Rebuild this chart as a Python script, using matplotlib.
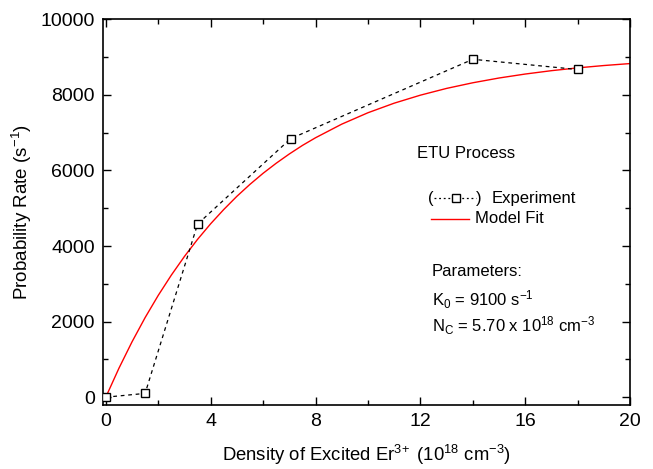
import matplotlib
matplotlib.use("Agg")
import matplotlib.pyplot as plt
from matplotlib.lines import Line2D
from matplotlib.ticker import MultipleLocator

plt.rcParams['font.family'] = ['Liberation Sans', 'DejaVu Sans']
plt.rcParams['mathtext.fontset'] = 'custom'
plt.rcParams['mathtext.rm'] = 'Liberation Sans'
plt.rcParams['mathtext.it'] = 'Liberation Sans'
plt.rcParams['mathtext.default'] = 'regular'

# measured points (density in 1e18 cm^-3, rate in s^-1)
exp_density = [0, 1.5, 3.5, 7.05, 14.0, 18.0]
exp_rate = [0, 100, 4580, 6840, 8940, 8670]

# model fit curve
fit_density = [0, 0.5, 1, 1.5, 2, 2.5, 3, 3.5, 4, 4.5, 5, 5.5, 6, 6.5, 7, 7.5,
               8, 9, 10, 11, 12, 13, 14, 15, 16, 17, 18, 19, 20]
fit_rate = [0, 764, 1464, 2106, 2693, 3230, 3724, 4176, 4589, 4966, 5315, 5632,
            5924, 6190, 6435, 6661, 6864, 7224, 7526, 7779, 7991, 8170, 8319,
            8445, 8550, 8639, 8713, 8775, 8827]

fig = plt.figure(figsize=(6.53, 4.69), dpi=100)
ax = fig.add_axes([0.158, 0.137, 0.807, 0.822])

ax.plot(fit_density, fit_rate, color='red', lw=1.0, zorder=2)
ax.plot(exp_density, exp_rate, color='black', lw=0.9, ls=(0, (3, 3)),
        marker='s', ms=6, mfc='white', mec='black', mew=1.0, zorder=3)

ax.set_xlim(-0.1, 20)
ax.set_ylim(-200, 10000)
ax.xaxis.set_major_locator(MultipleLocator(4))
ax.xaxis.set_minor_locator(MultipleLocator(2))
ax.yaxis.set_major_locator(MultipleLocator(2000))
ax.yaxis.set_minor_locator(MultipleLocator(1000))
ax.tick_params(which='both', direction='in', top=True, right=True, width=1.0)
ax.tick_params(which='major', length=6, labelsize=14, pad=6)
ax.tick_params(which='minor', length=3.5)
for s in ax.spines.values():
    s.set_linewidth(1.2)

ax.set_xlabel(r'Density of Excited Er$^{3\!+}$ (10$^{18}$ cm$^{-3}$)', fontsize=13.3, labelpad=9)
ax.set_ylabel(r'Probability Rate (s$^{-1}$)', fontsize=13.5, labelpad=5)

# legend-like annotation block
tkw = dict(transform=ax.transAxes, fontsize=12, va='center')
ax.text(0.596, 0.653, 'ETU Process', **tkw)
ax.text(0.617, 0.536, '(', **tkw)
ax.text(0.708, 0.536, ')', **tkw)
ax.add_line(Line2D([0.628, 0.708], [0.536, 0.536], transform=ax.transAxes,
                   color='black', lw=0.9, ls=(0, (1.5, 2.2))))
ax.add_line(Line2D([0.670], [0.536], transform=ax.transAxes, marker='s', ms=6,
                   mfc='white', mec='black', mew=1.0, ls='none'))
ax.text(0.738, 0.536, 'Experiment', **tkw)
ax.add_line(Line2D([0.622, 0.694], [0.483, 0.483], transform=ax.transAxes,
                   color='red', lw=1.0))
ax.text(0.706, 0.483, 'Model Fit', **tkw)
ax.text(0.624, 0.345, 'Parameters:', **tkw)
ax.text(0.624, 0.272, r'K$_0$ = 9100 s$^{-1}$', **tkw)
ax.text(0.624, 0.205, r'N$_C$ = 5.70 x 10$^{18}$ cm$^{-3}$', **tkw)

fig.savefig('out.png', dpi=100)
